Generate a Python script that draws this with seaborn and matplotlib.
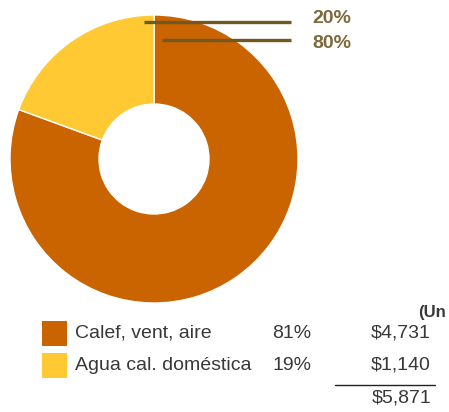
import matplotlib
matplotlib.use("Agg")
import matplotlib.pyplot as plt
import seaborn as sns

categories = ["Calef, vent, aire", "Agua cal. doméstica"]
costs = [4731, 1140]
shares = ["81%", "19%"]
cost_labels = ["$4,731", "$1,140"]
total_label = "$5,871"
callout_labels = ["20%", "80%"]

sns.set_theme(style="white")
plt.rcParams["font.family"] = ["Liberation Sans", "DejaVu Sans"]

palette = sns.color_palette(["#CA6400", "#FEC933"])

fig = plt.figure(figsize=(4.49, 4.12), dpi=100)
ax = fig.add_axes([0, 0, 1, 1])

# donut drawn in pixel-like coordinates (y axis points down)
cx, cy, r = 154, 159, 144
ax.pie(costs, colors=palette, startangle=-90, counterclock=True,
       center=(cx, cy), radius=r, frame=True,
       wedgeprops=dict(width=r - 55, edgecolor="white", linewidth=1))
ax.set_xlim(0, 449)
ax.set_ylim(412, 0)
ax.axis("off")

# callout lines and labels
line_color = "#705820"
text_color = "#7E693C"
ax.plot([144, 291], [22, 22], color=line_color, lw=2.4, solid_capstyle="butt")
ax.plot([162, 291], [40, 40], color=line_color, lw=2.4, solid_capstyle="butt")
ax.text(312, 18, callout_labels[0], color=text_color, fontsize=14, fontweight="bold", va="center")
ax.text(312, 43, callout_labels[1], color=text_color, fontsize=14, fontweight="bold", va="center")

# legend table
txt = "#383838"
ax.text(418, 312, "(Un", fontsize=12, fontweight="bold", color=txt, va="center")
rows_y = [333, 365]
for i, (cat, sh, cl) in enumerate(zip(categories, shares, cost_labels)):
    y = rows_y[i]
    ax.add_patch(plt.Rectangle((42, y - 12.5), 25, 25, color=palette[i], lw=0))
    ax.text(75, y, cat, fontsize=14, color=txt, va="center")
    ax.text(311, y, sh, fontsize=14, color=txt, va="center", ha="right")
    ax.text(431, y, cl, fontsize=14, color=txt, va="center", ha="right")
ax.plot([335, 435], [385, 385], color="#222222", lw=1)
ax.text(431, 398, total_label, fontsize=14, color=txt, va="center", ha="right")

fig.savefig("out.png", dpi=100)
